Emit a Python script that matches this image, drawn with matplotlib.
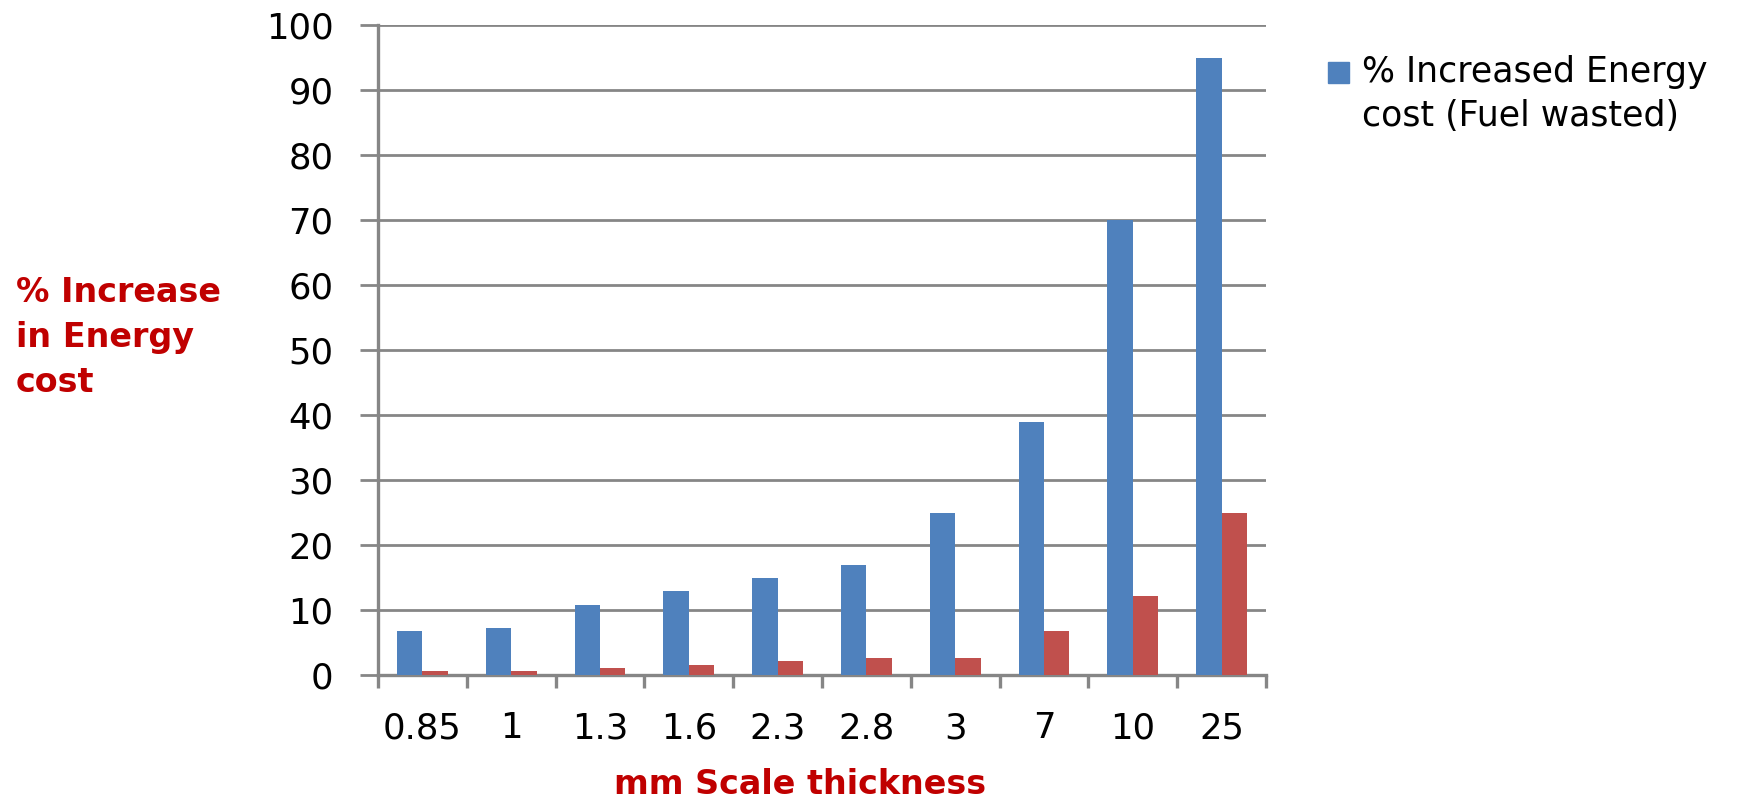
import matplotlib.pyplot as plt
from matplotlib.patches import Rectangle
import numpy as np

# scale thickness categories (mm) and % increase in energy cost
thickness = ['0.85', '1', '1.3', '1.6', '2.3', '2.8', '3', '7', '10', '25']
fuel_wasted = [6.8, 7.3, 10.7, 13.0, 14.9, 16.9, 25.0, 39.0, 70.0, 95.0]
second_series = [0.6, 0.6, 1.1, 1.55, 2.15, 2.6, 2.6, 6.8, 12.1, 25.0]

blue = '#4F81BD'
red = '#C0504D'
grey = '#868686'
label_red = '#C00000'

plt.rcParams['font.family'] = ['DejaVu Sans']

W, H = 1741, 801
fig = plt.figure(figsize=(W / 100, H / 100), dpi=100)
ax = fig.add_axes([378 / W, 1 - 675 / H, 888 / W, 650 / H])

x = np.arange(len(thickness))
w = 1 / 3.5
ax.bar(x - w / 2, fuel_wasted, w, color=blue, zorder=3)
ax.bar(x + w / 2, second_series, w, color=red, zorder=3)

ax.set_xlim(-0.5, len(thickness) - 0.5)
ax.set_ylim(0, 100)
ax.set_yticks(np.arange(0, 101, 10))
ax.grid(axis='y', color=grey, linewidth=2.0, zorder=0)

ax.set_xticks(x)
ax.set_xticklabels(thickness)
ax.set_xticks(np.arange(-0.5, len(thickness), 1), minor=True)
ax.tick_params(axis='x', which='major', length=0, pad=26, labelsize=25.5, colors='black')
ax.tick_params(axis='x', which='minor', length=9, width=2.4, color=grey)
ax.tick_params(axis='y', length=13, width=2.0, color=grey, labelsize=25.5, pad=19)

for side in ['top', 'right']:
    ax.spines[side].set_visible(False)
for side in ['left', 'bottom']:
    ax.spines[side].set_color(grey)
    ax.spines[side].set_linewidth(2.4)

# axis titles
for i, line in enumerate(['% Increase', 'in Energy', 'cost']):
    fig.text(16 / W, 1 - (302 + 45 * i) / H, line, color=label_red, fontsize=24,
             fontweight='bold', va='baseline', ha='left')
fig.text(800 / W, 7 / H, 'mm Scale thickness', color=label_red, fontsize=24,
         fontweight='bold', ha='center', va='baseline')

# legend key for the blue series
fig.patches.append(Rectangle((1328 / W, 1 - 83 / H), 21 / W, 21 / H,
                             transform=fig.transFigure, color=blue))
fig.text(1362 / W, 1 - 82 / H, '% Increased Energy', fontsize=25, va='baseline', ha='left')
fig.text(1362 / W, 1 - 126 / H, 'cost (Fuel wasted)', fontsize=25, va='baseline', ha='left')

fig.savefig('out.png', dpi=100)
